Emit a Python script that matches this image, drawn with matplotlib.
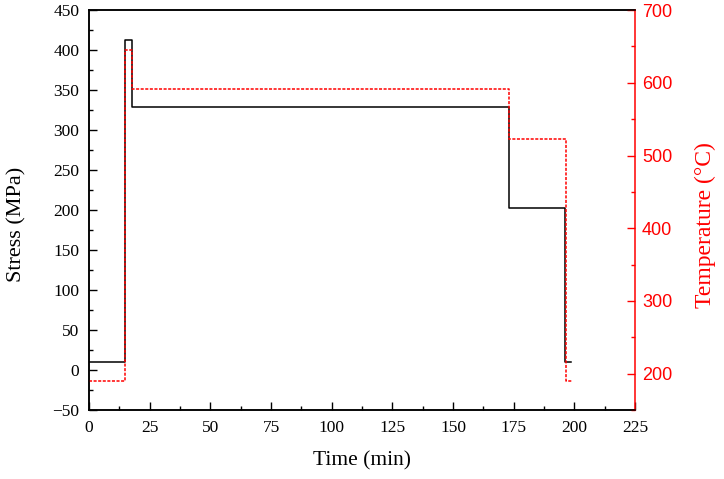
import matplotlib
matplotlib.use("Agg")
import matplotlib.pyplot as plt
from matplotlib.ticker import MultipleLocator

# stress history (step profile)
t_stress = [0, 14.8, 14.8, 17.6, 17.6, 172.9, 172.9, 196.2, 196.2, 198.8]
stress = [10, 10, 413, 413, 329, 329, 203, 203, 10, 10]

# temperature history (step profile)
t_temp = [0, 14.8, 14.8, 17.8, 17.8, 173.2, 173.2, 196.6, 196.6, 199.0]
temp = [190, 190, 645, 645, 591, 591, 523, 523, 190, 190]

serif = "Liberation Serif"
sans = "Liberation Sans"

fig = plt.figure(figsize=(7.24, 4.79), dpi=100)
ax = fig.add_axes([0.123, 0.144, 0.754, 0.835])
ax2 = ax.twinx()

ax.plot(t_stress, stress, color="black", lw=1.1)
ax2.plot(t_temp, temp, color="red", lw=1.1, linestyle=(0, (2.0, 1.0)))

ax.set_xlim(0, 225)
ax.set_ylim(-50, 450)
ax2.set_ylim(150, 700)

ax.xaxis.set_major_locator(MultipleLocator(25))
ax.xaxis.set_minor_locator(MultipleLocator(12.5))
ax.yaxis.set_major_locator(MultipleLocator(50))
ax.yaxis.set_minor_locator(MultipleLocator(25))
ax2.yaxis.set_major_locator(MultipleLocator(100))
ax2.yaxis.set_minor_locator(MultipleLocator(50))

ax.tick_params(which="major", direction="in", length=6, width=1, labelsize=12.5, color="black")
ax.tick_params(axis="y", which="major", pad=7)
ax.tick_params(axis="x", which="major", pad=7)
ax.tick_params(which="minor", direction="in", length=3, width=1)
ax2.tick_params(which="major", direction="in", length=6, width=1, labelsize=13, colors="red", pad=5)
ax2.tick_params(which="minor", direction="in", length=3, width=1, colors="red")

for lab in ax.get_xticklabels() + ax.get_yticklabels():
    lab.set_family(serif)
for lab in ax2.get_yticklabels():
    lab.set_family(sans)

for sp in ax.spines.values():
    sp.set_linewidth(1.1)
for sp in ax2.spines.values():
    sp.set_linewidth(1.1)
ax2.spines["right"].set_color("red")
ax.spines["right"].set_visible(False)

ax.set_xlabel("Time (min)", family=serif, fontsize=15.5, labelpad=11)
ax.set_ylabel("Stress (MPa)", family=serif, fontsize=16)
ax2.set_ylabel("Temperature (\u00b0C)", family=serif, fontsize=17, color="red")
ax.yaxis.set_label_coords(-0.115, 0.465)
ax2.yaxis.set_label_coords(1.110, 0.462)

fig.savefig("out.png", dpi=100)
